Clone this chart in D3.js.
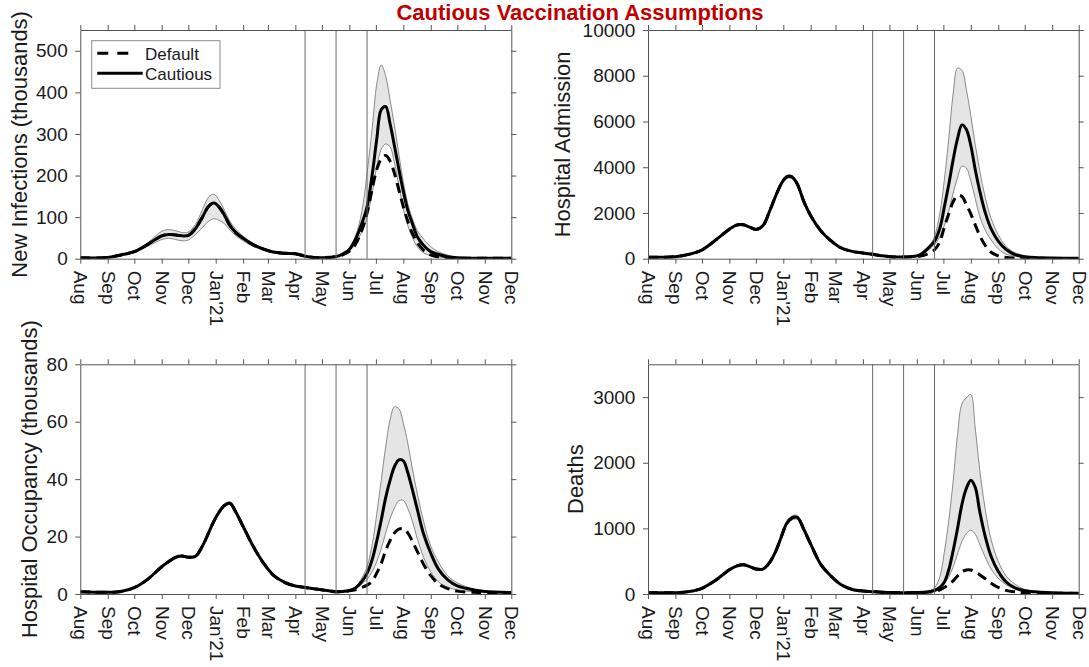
<!DOCTYPE html>
<html><head><meta charset="utf-8">
<script src="https://cdn.jsdelivr.net/npm/d3@7"></script>
<style>
body{margin:0;background:#fff;}
text{font-family:"Liberation Sans",Arial,Helvetica,sans-serif;}
</style></head><body>
<svg id="chart" width="1089" height="667"></svg>
<script>
// ---------- DATA ----------
const dates = ["2020-08-01","2020-09-01","2020-09-16","2020-10-01","2020-10-16","2020-11-01","2020-11-09","2020-11-17","2020-11-24","2020-12-01",
"2020-12-09","2020-12-17","2020-12-24","2020-12-30","2021-01-05","2021-01-11","2021-01-17","2021-01-24","2021-02-01","2021-02-12",
"2021-02-23","2021-03-07","2021-03-21","2021-04-01","2021-04-12","2021-04-22","2021-05-02","2021-05-17","2021-05-25","2021-06-01",
"2021-06-08","2021-06-15","2021-06-21","2021-06-27","2021-07-02","2021-07-07","2021-07-12","2021-07-17","2021-07-22","2021-07-27",
"2021-08-01","2021-08-06","2021-08-11","2021-08-17","2021-08-24","2021-09-01","2021-09-10","2021-09-20","2021-10-01","2021-10-20",
"2021-11-01","2021-12-01"];
const monthLabels = ["Aug","Sep","Oct","Nov","Dec","Jan'21","Feb","Mar","Apr","May","Jun","Jul","Aug","Sep","Oct","Nov","Dec"];
const stepDates = ["2021-04-12","2021-05-17","2021-06-21"];
const seriesNames = ["Default","Cautious"];

const infCautious = [2,3,9,17,34, 55,58,57,55,56, 72,100,126,134,124, 104,80,62,49,34, 24,16,13,12,6, 3,2.4,5,12,22, 47,84,125,205,288, 358,366,325,271,215, 162,117,86,52,32, 17,10,4.5,2,1.2, 1,1];
const infDefault  = [2,3,9,17,34, 55,58,57,55,56, 72,100,126,134,124, 104,80,62,49,34, 24,16,13,12,6, 3,2.4,5,10,18, 35,68,110,170,215, 240,248,235,205,165, 125,90,62,38,20, 9,4,2,1,1, 1,1];
const infUpper    = [2.5,3.5,10,19,38, 66,70,67,63,64, 82,118,148,155,140, 116,90,70,54,37, 26,18,14,13,7, 3.5,2.6,5.5,14,26, 55,112,205,318,420, 466,440,382,320,250, 185,133,98,67,47, 29,16,9,3,1.5, 1.2,1];
const infLower    = [1.5,2.5,8,15,30, 46,49,46,43,45, 58,75,90,96,92, 84,69,55,43,30, 21,14,12,11,5.5, 2.8,2.2,4.5,11,20, 38,63,101,160,221, 263,276,269,230,175, 120,80,52,28,14, 7,4,2,1,1, 1,1];

const admCautious = [60,90,190,380,800, 1290,1470,1480,1380,1280, 1450,2130,2800,3300,3580, 3570,3250,2520,1880,1240, 810,480,310,250,190, 130,87,73,90,125, 255,510,770,1330,2250, 3230,4320,5250,5850,5650, 4950,3900,2980,2060,1300, 770,400,180,85,40, 29,15];
const admDefault  = [60,90,190,380,800, 1290,1470,1480,1380,1280, 1450,2130,2800,3300,3580, 3570,3250,2520,1880,1240, 810,480,310,250,190, 130,87,73,85,90, 140,250,390,744,1370, 1950,2490,2760,2720,2360, 1960,1480,1020,600,280, 120,50,25,15,12, 12,10];
const admUpper    = [62,92,195,390,820, 1310,1500,1510,1410,1310, 1480,2170,2850,3360,3650, 3630,3310,2570,1920,1270, 830,490,315,255,195, 133,89,75,95,140, 330,560,980,1980,3420, 5210,7200,8330,8240,7390, 6250,5000,3870,2730,1760, 1050,530,260,117,50, 35,18];
const admLower    = [58,88,185,370,780, 1260,1440,1440,1340,1240, 1410,2090,2750,3250,3520, 3500,3200,2480,1840,1210, 790,470,300,245,185, 127,85,71,85,110, 220,400,610,960,1440, 2070,2860,3540,4050,3960, 3400,2630,1850,1270,820, 430,200,110,65,30, 25,12];

const occCautious = [0.8,0.6,0.9,2.2,5.1, 9.5,11.3,12.8,13.2,12.8, 13.1,16.7,21.3,25.4,28.6, 30.9,31.6,28.4,23.5,16.8, 11.2,6.6,3.9,2.8,2.3, 1.8,1.4,0.8,0.9,1.2, 2.1,4.3,7.2,12.2,18.5, 25.7,33.5,39.6,44.4,46.7, 46.4,42.3,36.6,29.2,20.8, 14.2,8.5,5.0,2.8,1.4, 0.9,0.5];
const occDefault  = [0.8,0.6,0.9,2.2,5.1, 9.5,11.3,12.8,13.2,12.8, 13.1,16.7,21.3,25.4,28.6, 30.9,31.6,28.4,23.5,16.8, 11.2,6.6,3.9,2.8,2.3, 1.8,1.4,0.8,0.9,1.1, 1.5,2.3,3.1,4.6,7.3, 10.6,15.1,18.6,21.3,22.6, 22.7,21.3,18.5,14.7,10.3, 6.4,3.4,1.9,1.0,0.6, 0.5,0.4];
const occUpper    = [0.9,0.7,1.0,2.3,5.3, 9.8,11.6,13.1,13.5,13.1, 13.4,17.1,21.7,25.9,29.1, 31.4,32.1,28.9,24.0,17.1, 11.4,6.8,4.0,2.9,2.4, 1.9,1.5,0.9,1.0,1.3, 2.5,5.5,9.5,17.5,28.0, 39.5,51.2,60.6,65.2,64.5, 59.5,52.6,44.0,34.6,25.2, 16.7,11.0,6.4,3.9,1.6, 1.0,0.6];
const occLower    = [0.7,0.5,0.8,2.1,4.9, 9.2,11.0,12.5,12.9,12.5, 12.8,16.3,20.9,24.9,28.1, 30.4,31.1,27.9,23.0,16.5, 11.0,6.4,3.8,2.7,2.2, 1.7,1.3,0.7,0.8,1.1, 1.9,3.4,5.1,7.9,11.3, 15.7,21.2,26.2,30.0,32.5, 32.6,29.8,25.6,19.0,12.7, 7.7,4.2,2.4,1.4,0.8, 0.7,0.4];

const deathCautious = [20,20,36,87,205, 368,425,445,418,380, 380,490,670,880,1080, 1160,1165,990,760,460, 285,145,65,45,36, 28,24,20,21,22, 25,36,53,100,178, 365,657,998,1366,1611, 1735,1627,1264,894,571, 345,183,92,50,28, 20,10];
const deathDefault  = [20,20,36,87,205, 368,425,445,418,380, 380,490,670,880,1080, 1160,1165,990,760,460, 285,145,65,45,36, 28,24,20,21,22, 24,30,37,61,100, 145,200,275,340,366, 365,335,295,235,165, 100,55,33,20,15, 13,9];
const deathUpper    = [21,21,37,89,210, 376,435,455,428,388, 388,500,685,900,1105, 1190,1195,1015,778,470, 292,148,67,46,37, 29,25,21,22,24, 30,50,95,264,632, 1112,1713,2430,2900,2990, 3040,2530,1900,1318,827, 500,273,150,70,35, 22,11];
const deathLower    = [19,19,35,85,200, 360,415,435,408,372, 372,480,655,860,1055, 1130,1135,965,742,450, 278,142,63,44,35, 27,23,19,20,21, 23,32,50,85,160, 260,410,610,800,920, 970,910,760,570,380, 240,140,75,45,25, 18,9];

const infTicks = [0,100,200,300,400,500];
const admTicks = [0,2000,4000,6000,8000,10000];
const occTicks = [0,20,40,60,80];
const deathTicks = [0,1000,2000,3000];

// ---------- LAYOUT ----------
const panels = [
  {label:"New Infections (thousands)", c:infCautious, d:infDefault, lo:infLower, hi:infUpper, yMax:550, ticks:infTicks, L:80.3, R:511.3, T:30, B:258.7, labelX:26.7, legend:true},
  {label:"Hospital Admission", c:admCautious, d:admDefault, lo:admLower, hi:admUpper, yMax:10000, ticks:admTicks, L:648, R:1078.7, T:30, B:258.7, labelX:569.9},
  {label:"Hospital Occupancy (thousands)", c:occCautious, d:occDefault, lo:occLower, hi:occUpper, yMax:80, ticks:occTicks, L:80.3, R:511.3, T:364.3, B:594, labelX:37.4},
  {label:"Deaths", c:deathCautious, d:deathDefault, lo:deathLower, hi:deathUpper, yMax:3500, ticks:deathTicks, L:648, R:1078.7, T:364.3, B:594, labelX:582.7}
];

const svg = d3.select("#chart");
const parse = d3.timeParse("%Y-%m-%d");
const X = dates.map(parse);
const x0 = parse("2020-08-01"), x1 = parse("2021-12-01");
const monthTicks = d3.timeMonth.range(x0, d3.timeDay.offset(x1, 1));
const curve = d3.curveCatmullRom.alpha(0.5);
const axisColor = "#555";
const defs = svg.append("defs");

svg.append("text").attr("x", 580).attr("y", 19.5).attr("text-anchor", "middle")
  .attr("font-size", 22).attr("font-weight", "bold").attr("fill", "#c00000")
  .text("Cautious Vaccination Assumptions");

panels.forEach((p, pi) => {
  const x = d3.scaleTime().domain([x0, x1]).range([p.L, p.R]);
  const y = d3.scaleLinear().domain([0, p.yMax]).range([p.B, p.T]);
  const g = svg.append("g");
  const cid = "clip" + pi;
  defs.append("clipPath").attr("id", cid).append("rect")
    .attr("x", p.L).attr("y", p.T).attr("width", p.R - p.L).attr("height", p.B - p.T);
  const plot = g.append("g").attr("clip-path", `url(#${cid})`);
  const idx = d3.range(X.length);

  plot.append("path").datum(idx)
    .attr("d", d3.area().x(i => x(X[i])).y0(i => y(p.lo[i])).y1(i => y(p.hi[i])).curve(curve))
    .attr("fill", "#e5e5e5").attr("stroke", "none");
  [p.lo, p.hi].forEach(arr => {
    plot.append("path").datum(idx)
      .attr("d", d3.line().x(i => x(X[i])).y(i => y(arr[i])).curve(curve))
      .attr("fill", "none").attr("stroke", "#6e6e6e").attr("stroke-width", 0.8);
  });

  stepDates.forEach(s => {
    const sx = x(parse(s));
    g.append("line").attr("x1", sx).attr("x2", sx).attr("y1", p.T).attr("y2", p.B)
      .attr("stroke", "#6a6a6a").attr("stroke-width", 1);
  });

  plot.append("path").datum(idx)
    .attr("d", d3.line().x(i => x(X[i])).y(i => y(p.d[i])).curve(curve))
    .attr("fill", "none").attr("stroke", "#000").attr("stroke-width", 3)
    .attr("stroke-dasharray", "10,6");
  plot.append("path").datum(idx)
    .attr("d", d3.line().x(i => x(X[i])).y(i => y(p.c[i])).curve(curve))
    .attr("fill", "none").attr("stroke", "#000").attr("stroke-width", 3);

  // axes
  const ax = g.append("g").attr("transform", `translate(0,${p.B})`)
    .call(d3.axisBottom(x).tickValues(monthTicks).tickFormat((d, i) => monthLabels[i]).tickSize(5).tickSizeOuter(0));
  ax.selectAll("text").attr("transform", "rotate(90)").attr("x", 12).attr("y", 0).attr("dy", "0.35em")
    .style("text-anchor", "start");
  g.append("g").attr("transform", `translate(0,${p.T})`)
    .call(d3.axisTop(x).tickValues(monthTicks).tickFormat("").tickSize(5).tickSizeOuter(0));
  g.append("g").attr("transform", `translate(${p.L},0)`)
    .call(d3.axisLeft(y).tickValues(p.ticks).tickFormat(d => String(d)).tickSize(5).tickPadding(7.6).tickSizeOuter(0));
  g.append("g").attr("transform", `translate(${p.R},0)`)
    .call(d3.axisRight(y).tickValues(p.ticks).tickFormat("").tickSize(5).tickSizeOuter(0));
  g.selectAll(".domain").attr("stroke", axisColor);
  g.selectAll(".tick line").attr("stroke", axisColor);
  g.selectAll(".tick text").attr("font-size", 19).attr("fill", "#1a1a1a")
    .attr("font-family", "'Liberation Sans',Arial,Helvetica,sans-serif");

  g.append("text").attr("transform", `translate(${p.labelX},${(p.T + p.B) / 2}) rotate(-90)`)
    .attr("text-anchor", "middle").attr("font-size", 22).attr("fill", "#1a1a1a").text(p.label);

  if (p.legend) {
    const lg = g.append("g");
    lg.append("rect").attr("x", 91.7).attr("y", 40.7).attr("width", 128.3).attr("height", 47.6)
      .attr("fill", "#fff").attr("stroke", "#8c8c8c").attr("stroke-width", 1);
    lg.append("line").attr("x1", 97.3).attr("x2", 131.7).attr("y1", 53.3).attr("y2", 53.3)
      .attr("stroke", "#000").attr("stroke-width", 3).attr("stroke-dasharray", "11,9");
    lg.append("line").attr("x1", 97.3).attr("x2", 142.7).attr("y1", 73.3).attr("y2", 73.3)
      .attr("stroke", "#000").attr("stroke-width", 3);
    lg.append("text").attr("x", 145).attr("y", 59.5).attr("font-size", 17).attr("fill", "#1a1a1a").text(seriesNames[0]);
    lg.append("text").attr("x", 145).attr("y", 80).attr("font-size", 17).attr("fill", "#1a1a1a").text(seriesNames[1]);
  }
});
</script>
</body></html>
